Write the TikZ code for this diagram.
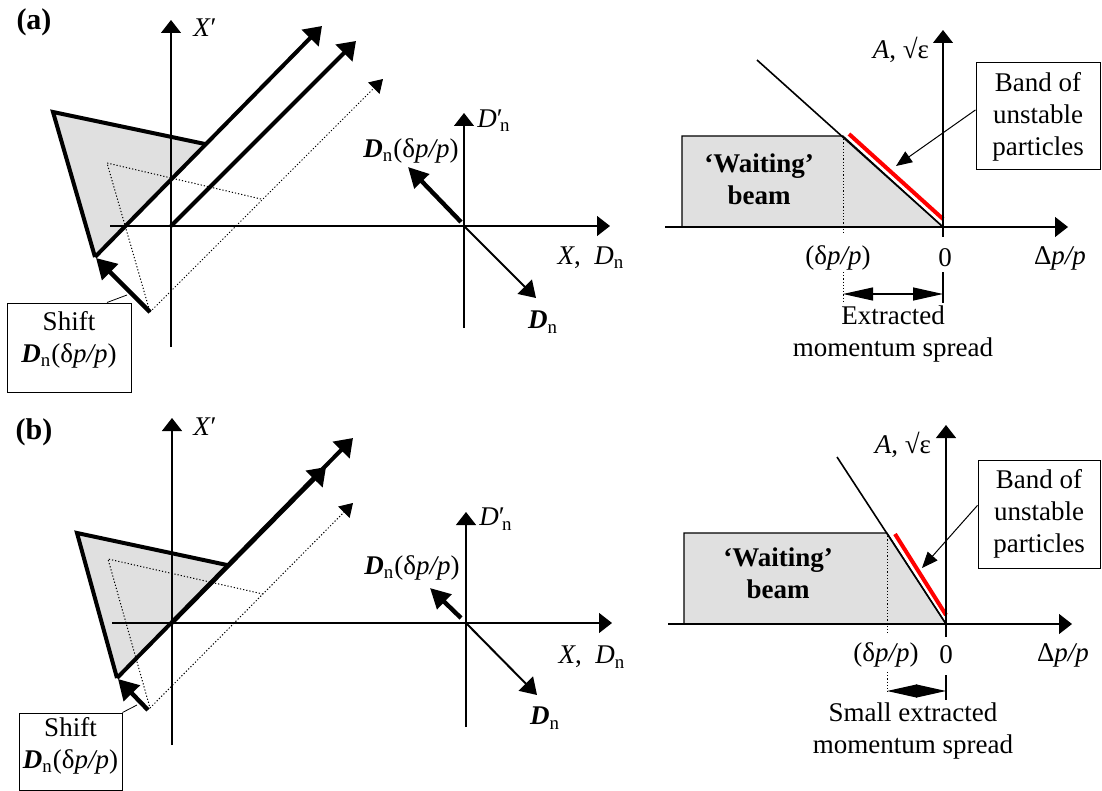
\documentclass[tikz,border=0pt]{standalone}
\usepackage{fontspec}
\setmainfont{Liberation Serif}
\usetikzlibrary{arrows.meta,calc}
% dispersion vector symbol and momentum offset
\newcommand{\DnSym}{\textbf{\textit{D}}\textsubscript{n}}
\newcommand{\dppText}{(δ\textit{p/p})}
\begin{document}
\begin{tikzpicture}[x=0.5pt,y=-0.5pt,
  every node/.style={font=\fontsize{13.5}{16}\selectfont, inner sep=0pt},
  tag/.style={font=\fontsize{15}{18}\selectfont\bfseries},
  axis/.style={line width=0.65pt,-{Triangle[length=6.5pt,width=10pt]}},
  edge/.style={line width=2pt,line join=miter},
  ray/.style={line width=2pt,-{Triangle[length=8.5pt,width=11.5pt]}},
  ghost/.style={line width=0.5pt,dash pattern=on 0.6pt off 1pt},
  ghostray/.style={ghost,-{Triangle[length=6.5pt,width=8pt]}},
  shiftarrow/.style={line width=2.2pt,-{Triangle[length=10pt,width=11pt]}},
  disparrow/.style={line width=2.2pt,-{Triangle[length=10pt,width=10pt]}},
  dnarrow/.style={line width=1pt,-{Triangle[length=8pt,width=10pt]}},
  beam/.style={fill=black!12,draw,line width=0.6pt},
  sep/.style={line width=0.8pt},
  band/.style={red,line width=2pt},
  dim/.style={line width=0.6pt,{Triangle[length=15pt,width=6.5pt]}-{Triangle[length=15pt,width=6.5pt]}},
  guide/.style={line width=0.5pt,dash pattern=on 0.6pt off 1pt},
  tick/.style={line width=0.6pt},
  callout/.style={draw,line width=0.5pt},
  pointer/.style={line width=0.5pt,-{Triangle[length=8pt,width=6.5pt]}},
  lead/.style={line width=0.4pt},
  bold/.style={font=\fontsize{13.5}{16}\selectfont\bfseries,align=center},
]
\useasboundingbox (0,0) rectangle (1102,791);

% ================= (a) =================
\node[tag] (tagA) at (34,22) {(a)};

% phase-space triangle before and after the shift
\coordinate (tA1) at (53,112);
\coordinate (tA2) at (205,144);
\coordinate (tA3) at (95,257);
\coordinate (gA1) at (107,163);
\coordinate (gA2) at (261,199);
\coordinate (gA3) at (150,312);
\coordinate (oA) at (171,226);
\coordinate (dA) at (464,226);
\fill[black!12] (tA1) -- (tA2) -- (tA3) -- cycle;
\draw[ghost] (gA2) -- (gA1) -- (gA3);
\draw[ghostray] (gA3) -- (383,79);

% axes
\draw[axis] (110,226) -- (610,226) coordinate (xA);
\draw[axis] (171,347) -- (171,20) coordinate (xpA);
\draw[axis] (464,328) -- (464,113) coordinate (dpA);

\draw[edge] (tA2) -- (tA1) -- (tA3);
\draw[ray] (tA3) -- (322,26);
\draw[ray] (oA) -- (356,41);
\draw[shiftarrow] (gA3) -- (96,258);

% shift callout
\node[callout,minimum width=62pt,minimum height=44.5pt] (shiftA) at (69,347.5) {};
\node[align=center] (shiftAt) at (69,340) {Shift\\\DnSym\dppText};
\draw[lead] ($(shiftA.north)+(38,0)$) -- (127,295);

% dispersion vectors
\draw[disparrow] (461,222) -- (408,167);
\draw[dnarrow] (dA) -- (536,298);
\node (xpAl) at (205,28) {\textit{X}′};
\node (dpAl) at (494,121) {\textit{D}\rlap{′}\textsubscript{\,n}};
\node (dispAl) at (411,151) {\DnSym\dppText};
\node (dnAl) at (543,322) {\DnSym};
\node (xdAl) at (591,258) {\textit{X},\ \ \textit{D}\textsubscript{n}};

% amplitude vs momentum
\coordinate (bA1) at (682,136);
\coordinate (bA2) at (843,136);
\coordinate (zA) at (943,227);
\coordinate (bA4) at (682,227);
\draw[beam] (bA4) -- (bA1) -- (bA2) -- (zA) -- cycle;
\draw[sep] (757,60) -- (zA);
\draw[band] (849,134) -- (943,219);
\draw[axis] (665,227) -- (1068,227);
\draw[axis] (943,237) -- (943,30);
\draw[guide] (bA2) -- (843,233);
\draw[guide] (843,272) -- (843,302);
\draw[tick] (943,272) -- (943,303);
\draw[dim] (843,294) -- (943,294);
\node (ampA) at (901,50) {\textit{A}, √ε};
\node (dppA) at (838,258) {\dppText};
\node (zeroA) at (945,258) {0};
\node (momA) at (1060,258) {Δ\textit{p/p}};
\node[align=center] (spreadA) at (893,334) {Extracted\\momentum spread};
\node[bold] (waitA) at (759,179) {‘Waiting’\\beam};
\node[callout,minimum width=62pt,minimum height=53.5pt,align=center] (bandA) at (1038,116.5) {Band of\\unstable\\particles};
\draw[pointer] (bandA.174) -- (896,166);

% ================= (b) =================
\node[tag] (tagB) at (34,432) {(b)};

\coordinate (tB1) at (77,533);
\coordinate (tB2) at (227,565);
\coordinate (tB3) at (117,678);
\coordinate (gB1) at (108,559);
\coordinate (gB2) at (263,594);
\coordinate (gB3) at (150,708);
\coordinate (oB) at (172,623);
\coordinate (dB) at (466,623);
\fill[black!12] (tB1) -- (tB2) -- (tB3) -- cycle;
\draw[ghost] (gB2) -- (gB1) -- (gB3);
\draw[ghostray] (gB3) -- (353,503);

\draw[axis] (112,623) -- (612,623) coordinate (xB);
\draw[axis] (172,745) -- (172,418) coordinate (xpB);
\draw[axis] (466,727) -- (466,512) coordinate (dpB);

\draw[edge] (tB2) -- (tB1) -- (tB3);
\draw[ray] (tB3) -- (353,438);
\draw[ray] (oB) -- (326,467);
\draw[shiftarrow] (148,710) -- (118,679);

\node[callout,minimum width=51.5pt,minimum height=38.5pt] (shiftB) at (70.5,751.5) {};
\node[align=center] (shiftBt) at (70.5,746) {Shift\\\DnSym\dppText};
\draw[lead] (shiftB.north east) -- (137,705);

\draw[disparrow] (461,618) -- (430,588);
\draw[dnarrow] (dB) -- (537,695);
\node (xpBl) at (205,427) {\textit{X}′};
\node (dpBl) at (496,519) {\textit{D}\rlap{′}\textsubscript{\,n}};
\node (dispBl) at (412,568) {\DnSym\dppText};
\node (dnBl) at (545,718) {\DnSym};
\node (xdBl) at (592,657) {\textit{X},\ \ \textit{D}\textsubscript{n}};

\coordinate (bB1) at (684,533);
\coordinate (bB2) at (887,533);
\coordinate (zB) at (946,624);
\coordinate (bB4) at (684,624);
\draw[beam] (bB4) -- (bB1) -- (bB2) -- (zB) -- cycle;
\draw[sep] (837,457) -- (zB);
\draw[band] (895,534) -- (946,615);
\draw[axis] (668,624) -- (1072,624);
\draw[axis] (946,637) -- (946,425);
\draw[guide] (bB2) -- (887,633);
\draw[guide] (887,672) -- (887,692);
\draw[tick] (946,675) -- (946,700);
\draw[dim] (887,691) -- (946,691);
\node (ampB) at (903,445) {\textit{A}, √ε};
\node (dppB) at (886,655) {\dppText};
\node (zeroB) at (946,655) {0};
\node (momB) at (1063,655) {Δ\textit{p/p}};
\node[align=center] (spreadB) at (913,731) {Small extracted\\momentum spread};
\node[bold] (waitB) at (778,573) {‘Waiting’\\beam};
\node[callout,minimum width=61pt,minimum height=54pt,align=center] (bandB) at (1039,514) {Band of\\unstable\\particles};
\draw[pointer] (bandB.172.5) -- (922,568);
\end{tikzpicture}
\end{document}
